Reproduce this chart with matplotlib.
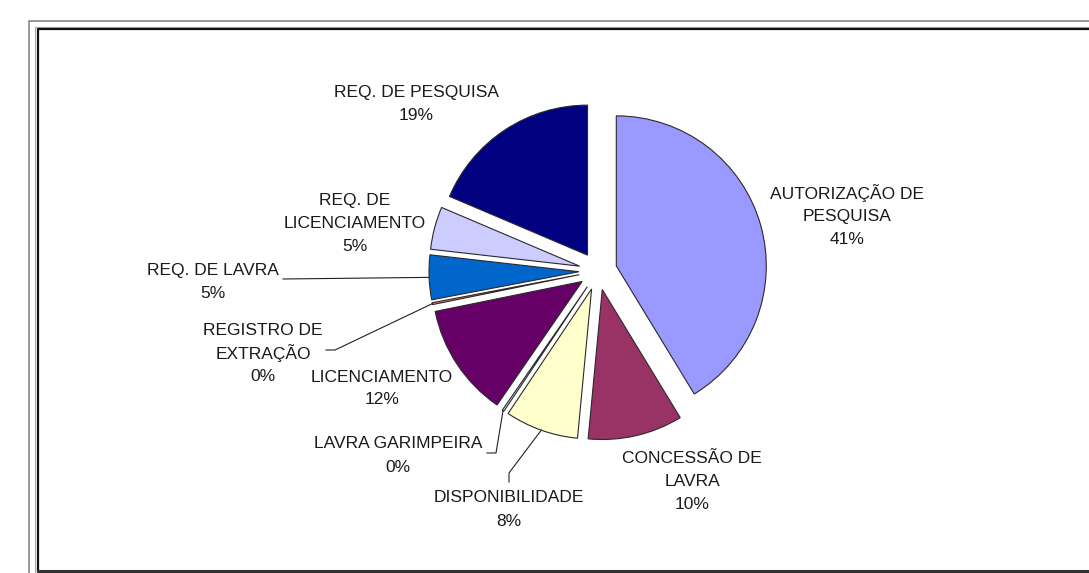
import math
import matplotlib
matplotlib.use("Agg")
import matplotlib.pyplot as plt

W, H = 1089, 573

categories = [
    "AUTORIZAÇÃO DE\nPESQUISA",
    "CONCESSÃO DE\nLAVRA",
    "DISPONIBILIDADE",
    "LAVRA GARIMPEIRA",
    "LICENCIAMENTO",
    "REGISTRO DE\nEXTRAÇÃO",
    "REQ. DE LAVRA",
    "REQ. DE\nLICENCIAMENTO",
    "REQ. DE PESQUISA",
]
shares = [41.3, 10.2, 7.9, 0.2, 12.2, 0.2, 4.8, 4.6, 18.6]
pct_labels = ["41%", "10%", "8%", "0%", "12%", "0%", "5%", "5%", "19%"]

colors = ["#9999FF", "#993366", "#FFFFCC", "#CCFFFF", "#660066",
          "#FF8080", "#0066CC", "#CCCCFF", "#000080"]

# label centres in pixel coords (x, y from top)
label_pos = [(847, 215), (692, 480), (509, 508), (398, 454), (382, 387),
             (263, 352), (213, 280), (355, 222), (416, 103)]
# leader line elbows (pixel coords) for labels that have one
leaders = {
    2: [(509, 482), (509, 473)],
    3: [(487, 453), (496, 453)],
    5: [(326, 350), (335, 350)],
    6: [(283, 279)],
}
line_gap = 23


def py(y):
    return H - y


plt.rcParams['font.family'] = ['Liberation Sans', 'DejaVu Sans']

fig = plt.figure(figsize=(W / 100, H / 100), dpi=100)
ax = fig.add_axes([0, 0, 1, 1])

cx, cy, r = 598, 271, 150
wedges, _ = ax.pie(shares, colors=colors, startangle=90, counterclock=False,
                   center=(cx, py(cy)), radius=r, explode=[19] * len(shares),
                   wedgeprops=dict(edgecolor="#2a2a2a", linewidth=0.8))

ax.set_xlim(0, W)
ax.set_ylim(0, H)
ax.set_aspect('equal')
ax.axis('off')

for i, (name, pct) in enumerate(zip(categories, pct_labels)):
    x, y = label_pos[i]
    lines = name.split("\n") + [pct]
    n = len(lines)
    for k, s in enumerate(lines):
        yy = y + (k - (n - 1) / 2) * line_gap
        ax.text(x, py(yy), s, ha='center', va='center_baseline',
                fontsize=12.5, color="#1a1a1a")

for i, pts in leaders.items():
    w = wedges[i]
    mid = math.radians((w.theta1 + w.theta2) / 2)
    ax_x = w.center[0] + w.r * math.cos(mid)
    ax_y = w.center[1] + w.r * math.sin(mid)
    xs = [p[0] for p in pts] + [ax_x]
    ys = [py(p[1]) for p in pts] + [ax_y]
    ax.plot(xs, ys, color="#222222", lw=0.8)

# chart frame
ax.plot([29, 29, W], [0, py(20.5), py(20.5)], color="#888888", lw=1.2,
        clip_on=False)
ax.plot([35, 35, W], [0, py(27), py(27)], color="#aaaaaa", lw=0.8)
ax.plot([37.5, 37.5, W], [py(570.5), py(28.5), py(28.5)], color="#111111",
        lw=1.6)
ax.plot([37.5, W], [py(570.5), py(570.5)], color="#333333", lw=2.2)

fig.savefig("out.png", dpi=100)
